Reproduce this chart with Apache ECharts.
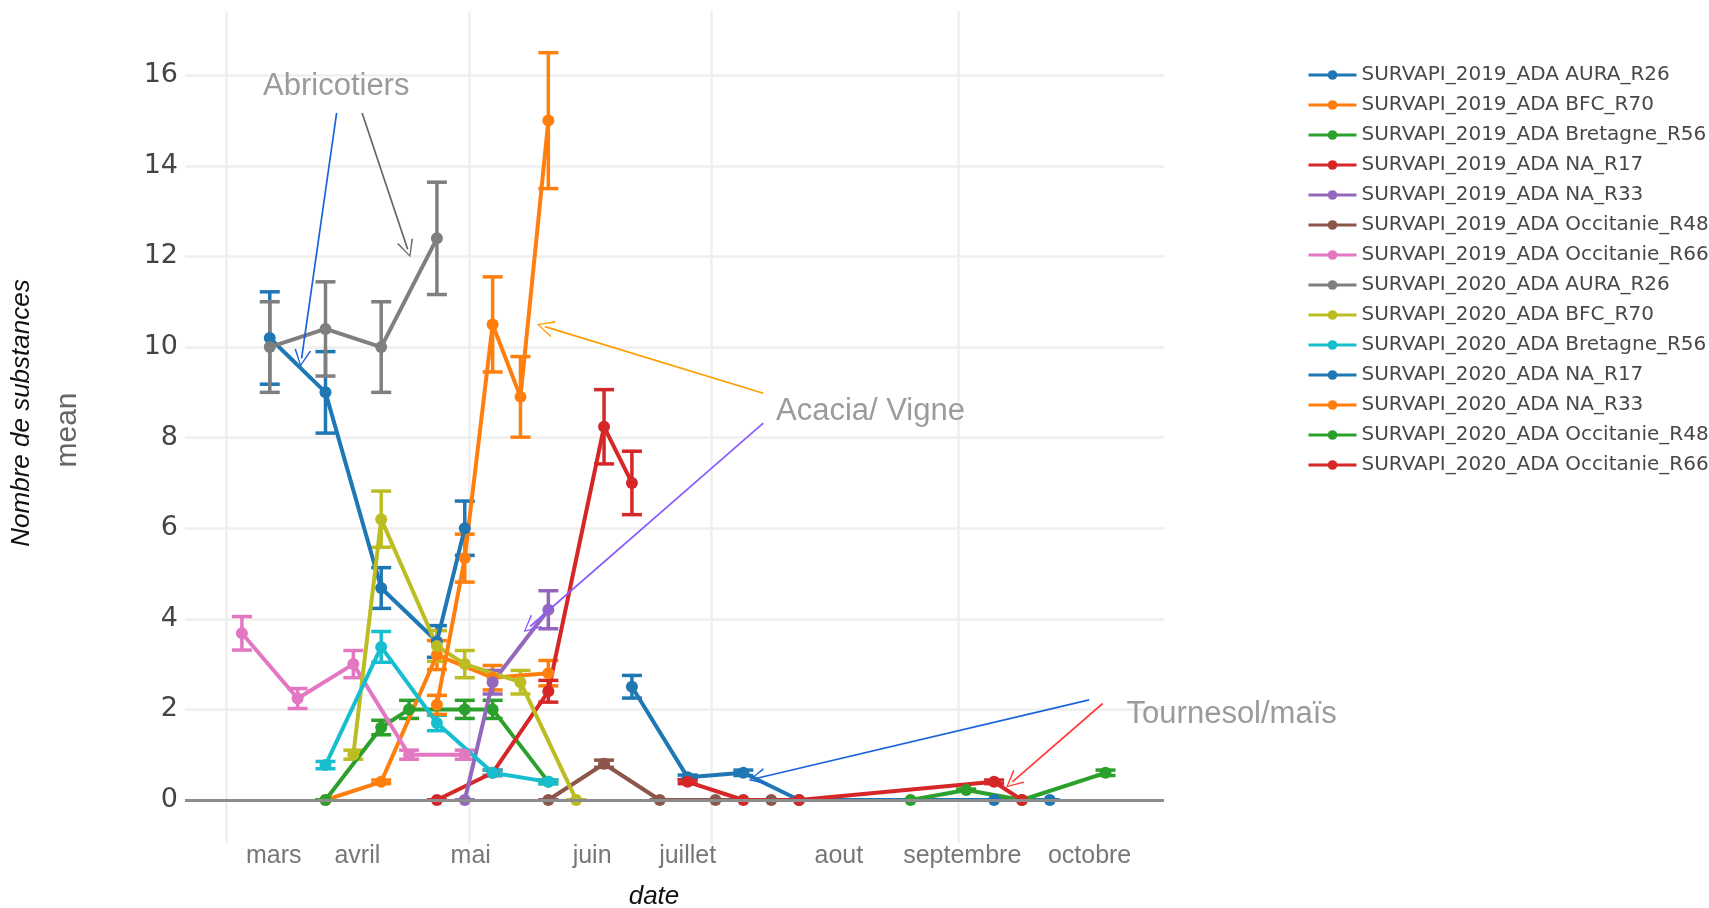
<!DOCTYPE html>
<html>
<head>
<meta charset="utf-8">
<script src="https://cdn.jsdelivr.net/npm/echarts@6/dist/echarts.min.js"></script>
<style>
  html, body { margin: 0; padding: 0; background: #fff; }
  #chart { width: 1709px; height: 908px; }
</style>
</head>
<body>
<div id="chart"></div>
<script>
// x = jours depuis le 1er mars ; y = nombre moyen de substances ; err = barre d'erreur (+/-)
const days_2019_AURA = [11, 25, 39, 53, 60];
const mean_2019_AURA = [10.2, 9.0, 4.68, 3.5, 6.0];
const err_2019_AURA = [1.02, 0.9, 0.45, 0.35, 0.6];

const days_2019_BFC = [25, 39, 53, 67, 81];
const mean_2019_BFC = [0, 0.4, 3.2, 2.7, 2.8];
const err_2019_BFC = [0, 0.04, 0.32, 0.27, 0.28];

const days_2019_BRE = [25, 39, 46, 60, 67, 81];
const mean_2019_BRE = [0, 1.6, 2.0, 2.0, 2.0, 0.4];
const err_2019_BRE = [0, 0.16, 0.2, 0.2, 0.2, 0.04];

const days_2019_NA17 = [53, 67, 81, 95, 102];
const mean_2019_NA17 = [0, 0.6, 2.4, 8.24, 7.0];
const err_2019_NA17 = [0, 0.06, 0.24, 0.82, 0.7];

const days_2019_NA33 = [60, 67, 81];
const mean_2019_NA33 = [0, 2.6, 4.2];
const err_2019_NA33 = [0, 0.26, 0.42];

const days_2019_OCC48 = [81, 95, 109, 123, 137];
const mean_2019_OCC48 = [0, 0.8, 0, 0, 0];
const err_2019_OCC48 = [0, 0.08, 0, 0, 0];

const days_2019_OCC66 = [4, 18, 32, 46, 60];
const mean_2019_OCC66 = [3.68, 2.24, 3.0, 1.0, 1.0];
const err_2019_OCC66 = [0.37, 0.22, 0.3, 0.1, 0.1];

const days_2020_AURA = [11, 25, 39, 53];
const mean_2020_AURA = [10.0, 10.4, 10.0, 12.4];
const err_2020_AURA = [1.0, 1.04, 1.0, 1.24];

const days_2020_BFC = [32, 39, 53, 60, 74, 88];
const mean_2020_BFC = [1.0, 6.2, 3.4, 3.0, 2.6, 0];
const err_2020_BFC = [0.1, 0.62, 0.34, 0.3, 0.26, 0];

const days_2020_BRE = [25, 39, 53, 67, 81];
const mean_2020_BRE = [0.77, 3.38, 1.7, 0.6, 0.4];
const err_2020_BRE = [0.08, 0.34, 0.17, 0.06, 0.04];

const days_2020_NA17 = [102, 116, 130, 144, 193, 207];
const mean_2020_NA17 = [2.5, 0.5, 0.6, 0, 0, 0];
const err_2020_NA17 = [0.25, 0.05, 0.06, 0, 0, 0];

const days_2020_NA33 = [53, 60, 67, 74, 81];
const mean_2020_NA33 = [2.1, 5.34, 10.5, 8.9, 15.0];
const err_2020_NA33 = [0.21, 0.53, 1.05, 0.89, 1.5];

const days_2020_OCC48 = [172, 186, 200, 221];
const mean_2020_OCC48 = [0, 0.22, 0, 0.6];
const err_2020_OCC48 = [0, 0.02, 0, 0.06];

const days_2020_OCC66 = [116, 130, 144, 193, 200];
const mean_2020_OCC66 = [0.4, 0, 0, 0.4, 0];
const err_2020_OCC66 = [0.04, 0, 0, 0.04, 0];

// axes
const yTicks = [0, 2, 4, 6, 8, 10, 12, 14, 16];
const gridDays = [0, 61, 122, 184];            // 1er mars, mai, juillet, septembre
const monthLabelDays = [12, 33, 61.5, 92, 116, 154, 185, 217];
const monthLabels = ['mars', 'avril', 'mai', 'juin', 'juillet', 'aout', 'septembre', 'octobre'];

const traces = [
  ['SURVAPI_2019_ADA AURA_R26', '#1f77b4', days_2019_AURA, mean_2019_AURA, err_2019_AURA],
  ['SURVAPI_2019_ADA BFC_R70', '#ff7f0e', days_2019_BFC, mean_2019_BFC, err_2019_BFC],
  ['SURVAPI_2019_ADA Bretagne_R56', '#2ca02c', days_2019_BRE, mean_2019_BRE, err_2019_BRE],
  ['SURVAPI_2019_ADA NA_R17', '#d62728', days_2019_NA17, mean_2019_NA17, err_2019_NA17],
  ['SURVAPI_2019_ADA NA_R33', '#9467bd', days_2019_NA33, mean_2019_NA33, err_2019_NA33],
  ['SURVAPI_2019_ADA Occitanie_R48', '#8c564b', days_2019_OCC48, mean_2019_OCC48, err_2019_OCC48],
  ['SURVAPI_2019_ADA Occitanie_R66', '#e377c2', days_2019_OCC66, mean_2019_OCC66, err_2019_OCC66],
  ['SURVAPI_2020_ADA AURA_R26', '#7f7f7f', days_2020_AURA, mean_2020_AURA, err_2020_AURA],
  ['SURVAPI_2020_ADA BFC_R70', '#bcbd22', days_2020_BFC, mean_2020_BFC, err_2020_BFC],
  ['SURVAPI_2020_ADA Bretagne_R56', '#17becf', days_2020_BRE, mean_2020_BRE, err_2020_BRE],
  ['SURVAPI_2020_ADA NA_R17', '#1f77b4', days_2020_NA17, mean_2020_NA17, err_2020_NA17],
  ['SURVAPI_2020_ADA NA_R33', '#ff7f0e', days_2020_NA33, mean_2020_NA33, err_2020_NA33],
  ['SURVAPI_2020_ADA Occitanie_R48', '#2ca02c', days_2020_OCC48, mean_2020_OCC48, err_2020_OCC48],
  ['SURVAPI_2020_ADA Occitanie_R66', '#d62728', days_2020_OCC66, mean_2020_OCC66, err_2020_OCC66]
];

// annotations (coordonnées en jours / valeurs)
const notes = [
  { text: 'Abricotiers', at: [27.7, 15.76], align: 'center' },
  { text: 'Acacia/ Vigne', at: [138.2, 8.57], align: 'left' },
  { text: 'Tournesol/maïs', at: [226.3, 1.88], align: 'left' }
];
const arrows = [
  { from: [27.8, 15.17], to: [19.0, 9.75], color: '#1b63d8' },
  { from: [34.2, 15.17], to: [45.65, 12.16], color: '#666666' },
  { from: [135.0, 8.98], to: [80.15, 10.45], color: '#ff9d00' },
  { from: [135.0, 8.32], to: [76.4, 3.83], color: '#8a5cff' },
  { from: [216.9, 2.21], to: [133.4, 0.48], color: '#1b63d8' },
  { from: [220.3, 2.13], to: [197.6, 0.4], color: '#ff3b3b' }
];

const chevron = 'path://M5,0 L10,10 L9,10 L5,1.6 L1,10 L0,10 Z';

function renderErrorBar(params, api) {
  const x = api.value(0);
  const top = api.coord([x, api.value(2)]);
  const bot = api.coord([x, api.value(1)]);
  const half = 10;
  const style = { stroke: api.visual('color'), lineWidth: 3.5 };
  return {
    type: 'group',
    children: [
      { type: 'line', shape: { x1: top[0], y1: top[1], x2: bot[0], y2: bot[1] }, style: style },
      { type: 'line', shape: { x1: top[0] - half, y1: top[1], x2: top[0] + half, y2: top[1] }, style: style },
      { type: 'line', shape: { x1: bot[0] - half, y1: bot[1], x2: bot[0] + half, y2: bot[1] }, style: style }
    ]
  };
}

const series = [];
traces.forEach(([name, color, days, mean, err], i) => {
  const line = {
    name: name,
    type: 'line',
    data: days.map((d, k) => [d, mean[k]]),
    symbol: 'circle',
    symbolSize: 12,
    lineStyle: { width: 4, color: color },
    itemStyle: { color: color },
    emphasis: { disabled: true }
  };
  if (i === 0) {
    // ligne du zéro
    line.markLine = {
      silent: true,
      symbol: 'none',
      label: { show: false },
      lineStyle: { color: '#8c8c8c', width: 3, type: 'solid' },
      data: [{ yAxis: 0 }]
    };
  }
  series.push(line);
  series.push({
    name: name,
    type: 'custom',
    renderItem: renderErrorBar,
    itemStyle: { color: color },
    data: days.map((d, k) => [d, mean[k] - err[k], mean[k] + err[k]]),
    encode: { x: 0, y: [1, 2] },
    silent: true
  });
});

series.push({
  name: 'annotations',
  type: 'line',
  data: [],
  z: 10,
  markLine: {
    silent: true,
    animation: false,
    label: { show: false },
    symbol: ['none', chevron],
    symbolSize: [17, 17],
    data: arrows.map(a => [
      { coord: a.from, lineStyle: { color: a.color, width: 1.7, type: 'solid' } },
      { coord: a.to }
    ])
  }
});

const chart = echarts.init(document.getElementById('chart'));
chart.setOption({
  animation: false,
  backgroundColor: '#ffffff',
  grid: { left: 185, right: 545, top: 11, bottom: 65 },
  legend: {
    data: traces.map(t => t[0]),
    orient: 'vertical',
    left: 1302,
    top: 60,
    itemWidth: 48,
    itemHeight: 12,
    itemGap: 10,
    lineStyle: { width: 3 },
    textStyle: { fontFamily: 'DejaVu Sans', fontSize: 20, color: '#484848' }
  },
  xAxis: {
    type: 'value',
    min: -10.3,
    max: 235.7,
    axisLine: { show: false },
    axisTick: { show: false, customValues: gridDays },
    splitLine: { show: true, lineStyle: { color: '#efefef', width: 2.5 } },
    axisLabel: {
      customValues: monthLabelDays,
      formatter: v => monthLabels[monthLabelDays.indexOf(v)],
      fontFamily: 'Liberation Sans',
      fontSize: 25,
      color: '#777',
      margin: 1
    }
  },
  yAxis: {
    type: 'value',
    min: -0.95,
    max: 17.42,
    axisLine: { show: false },
    axisTick: { show: false, customValues: yTicks },
    splitLine: { show: true, lineStyle: { color: '#efefef', width: 2.5 } },
    axisLabel: {
      customValues: yTicks,
      fontFamily: 'DejaVu Sans',
      fontSize: 27,
      color: '#444',
      margin: 7
    }
  },
  series: series
});

// textes : titres d'axes et annotations
const graphics = [
  {
    type: 'text', x: 22, y: 413, rotation: Math.PI / 2,
    style: { text: 'Nombre de substances', font: 'italic 26px "Liberation Sans"', fill: '#111', align: 'center', verticalAlign: 'middle' }
  },
  {
    type: 'text', x: 68, y: 430, rotation: Math.PI / 2,
    style: { text: 'mean', font: '30px "Liberation Sans"', fill: '#666', align: 'center', verticalAlign: 'middle' }
  },
  {
    type: 'text', x: 654, y: 897,
    style: { text: 'date', font: 'italic 26px "Liberation Sans"', fill: '#111', align: 'center', verticalAlign: 'middle' }
  }
];
notes.forEach(n => {
  const p = chart.convertToPixel({ gridIndex: 0 }, n.at);
  graphics.push({
    type: 'text', x: p[0], y: p[1], z: 20,
    style: { text: n.text, font: '31px "Liberation Sans"', fill: '#9b9b9b', align: n.align, verticalAlign: 'middle' }
  });
});
chart.setOption({ graphic: graphics });
</script>
</body>
</html>
